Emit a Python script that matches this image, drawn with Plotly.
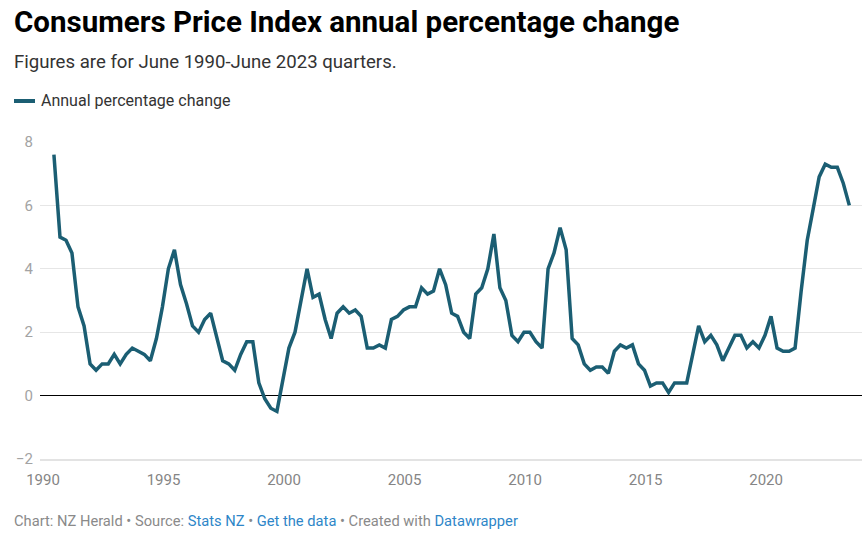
import plotly.graph_objects as go

years = list(range(1990, 2024))
quarter_months = ["03", "06", "09", "12"]

# Quarterly dates, June 1990 - June 2023
dates = []
for y in years:
    for m in quarter_months:
        d = f"{y}-{m}-15"
        if (y == 1990 and m == "03") or (y == 2023 and m in ("09", "12")):
            continue
        dates.append(d)

values = [
    7.6, 5.0, 4.9,
    4.5, 2.8, 2.2, 1.0,
    0.8, 1.0, 1.0, 1.3,
    1.0, 1.3, 1.5, 1.4,
    1.3, 1.1, 1.8, 2.8,
    4.0, 4.6, 3.5, 2.9,
    2.2, 2.0, 2.4, 2.6,
    1.8, 1.1, 1.0, 0.8,
    1.3, 1.7, 1.7, 0.4,
    -0.1, -0.4, -0.5, 0.5,
    1.5, 2.0, 3.0, 4.0,
    3.1, 3.2, 2.4, 1.8,
    2.6, 2.8, 2.6, 2.7,
    2.5, 1.5, 1.5, 1.6,
    1.5, 2.4, 2.5, 2.7,
    2.8, 2.8, 3.4, 3.2,
    3.3, 4.0, 3.5, 2.6,
    2.5, 2.0, 1.8, 3.2,
    3.4, 4.0, 5.1, 3.4,
    3.0, 1.9, 1.7, 2.0,
    2.0, 1.7, 1.5, 4.0,
    4.5, 5.3, 4.6, 1.8,
    1.6, 1.0, 0.8, 0.9,
    0.9, 0.7, 1.4, 1.6,
    1.5, 1.6, 1.0, 0.8,
    0.3, 0.4, 0.4, 0.1,
    0.4, 0.4, 0.4, 1.3,
    2.2, 1.7, 1.9, 1.6,
    1.1, 1.5, 1.9, 1.9,
    1.5, 1.7, 1.5, 1.9,
    2.5, 1.5, 1.4, 1.4,
    1.5, 3.3, 4.9, 5.9,
    6.9, 7.3, 7.2, 7.2,
    6.7, 6.0,
]

series_name = "Annual percentage change"
x_tick_vals = ["1990-01-01", "1995-01-01", "2000-01-01", "2005-01-01",
               "2010-01-01", "2015-01-01", "2020-01-01"]
x_tick_text = ["1990", "1995", "2000", "2005", "2010", "2015", "2020"]
y_tick_vals = [-2, 0, 2, 4, 6, 8]
y_tick_text = ["\u22122", "0", "2", "4", "6", "8"]

LINE = "#1b5e73"
W, H = 865, 533
L, R, T, B = 40, 3, 142, 74
PW, PH = W - L - R, H - T - B

def px(x):
    return (x - L) / PW

def py(y):
    return (H - B - y) / PH

fig = go.Figure()
fig.add_trace(go.Scatter(
    x=dates, y=values, mode="lines", name=series_name,
    line=dict(color=LINE, width=3.5, shape="linear"),
    hoverinfo="x+y", showlegend=False,
))

fig.update_layout(
    width=W, height=H,
    margin=dict(l=L, r=R, t=T, b=B, pad=0),
    paper_bgcolor="white", plot_bgcolor="white",
    font=dict(family="Roboto", color="#333333"),
    xaxis=dict(
        type="date",
        range=["1989-11-16", "2023-12-24"],
        tickvals=x_tick_vals, ticktext=x_tick_text,
        showgrid=False, zeroline=False,
        showline=True, linecolor="#e3e3e3", linewidth=2,
        ticks="", tickfont=dict(size=15, color="#858585"),
        ticklabelstandoff=6,
    ),
    yaxis=dict(
        range=[-2, 8],
        tickvals=y_tick_vals, ticktext=y_tick_text,
        showgrid=True, gridcolor="#e6e6e6", gridwidth=1,
        zeroline=True, zerolinecolor="#000000", zerolinewidth=1,
        showline=False, ticks="",
        tickfont=dict(size=15, color="#a3a3a3"),
        ticklabelstandoff=6,
    ),
)

annotations = [
    dict(text="<b>Consumers Price Index annual percentage change</b>",
         x=px(12), y=py(22), xanchor="left", yanchor="middle",
         font=dict(size=29.5, color="#000000", family="Roboto")),
    dict(text="Figures are for June 1990-June 2023 quarters.",
         x=px(12), y=py(62), xanchor="left", yanchor="middle",
         font=dict(size=18.6, color="#333333", family="Roboto")),
    dict(text=series_name,
         x=px(39), y=py(101), xanchor="left", yanchor="middle",
         font=dict(size=16, color="#333333", family="Roboto")),
    dict(text=("Chart: NZ Herald \u2022 Source: <span style='color:#2e86c8'>Stats NZ</span> \u2022 "
               "<span style='color:#2e86c8'>Get the data</span> \u2022 Created with "
               "<span style='color:#2e86c8'>Datawrapper</span>"),
         x=px(12), y=py(521), xanchor="left", yanchor="middle",
         font=dict(size=14.7, color="#8a8a8a", family="Roboto")),
]
for a in annotations:
    a.update(xref="paper", yref="paper", showarrow=False, align="left")
fig.update_layout(annotations=annotations)

fig.add_shape(type="line", xref="paper", yref="paper",
              x0=px(14), x1=px(35), y0=py(101), y1=py(101),
              line=dict(color=LINE, width=4))

fig.write_html("out.html")
